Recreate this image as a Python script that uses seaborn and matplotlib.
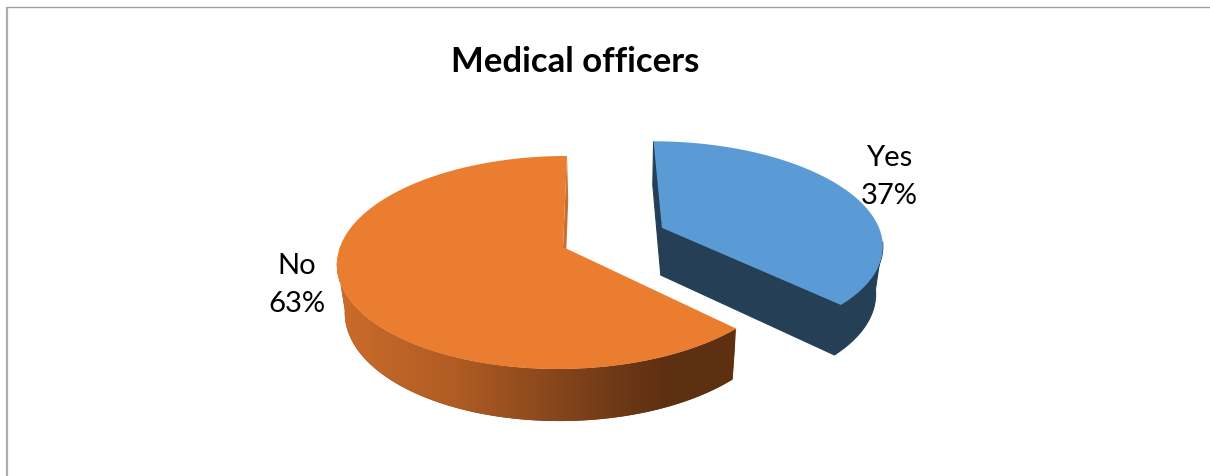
import numpy as np
import matplotlib
matplotlib.use("Agg")
import matplotlib.pyplot as plt
import seaborn as sns
from matplotlib.colors import LinearSegmentedColormap
from matplotlib.path import Path
from matplotlib.transforms import Affine2D, Transform

# Chart data
categories = ["Yes", "No"]
shares = [37.4, 62.6]
chart_title = "Medical officers"
slice_colors = ["#5b9bd5", "#eb7d31"]

sns.set_theme(style="white")
plt.rcParams["font.family"] = ["Lato", "DejaVu Sans"]

# Camera for the tilted pie (pie units -> picture pixels)
SCALE_X, ORIGIN_X, ORIGIN_Y = 223.0, 563.0, 248.0
LEAN_X, LIFT_Y, FALL_Y = 86.5, -68.2, 56.3
SHIFT_Z, PERSP_Y, PERSP_Z = 17.4, 0.1455, 0.0281


def project(x, y, z=0.0):
    w = 1 + PERSP_Y * y + PERSP_Z * z
    px = (SCALE_X * x + LEAN_X * y + SHIFT_Z * z + ORIGIN_X) / w
    py = (LIFT_Y * y + FALL_Y * z + ORIGIN_Y) / w
    return px, py


class Tilt(Transform):
    input_dims = output_dims = 2

    def transform_non_affine(self, values):
        values = np.asarray(values)
        return np.column_stack(project(values[:, 0], values[:, 1]))

    def transform_path_non_affine(self, path):
        # Flatten the curves at a large scale so the rim stays smooth
        big = path.transformed(Affine2D().scale(2000)).to_polygons(closed_only=False)[0]
        return Path(self.transform_non_affine(big / 2000))


def arc(wedge, a, b, n):
    t = np.radians(np.linspace(a, b, n))
    return wedge.center[0] + wedge.r * np.cos(t), wedge.center[1] + wedge.r * np.sin(t)


def wall(x, y):
    # Band from the upper rim down to the lower rim
    top = np.column_stack(project(x, y, 0.0))
    low = np.column_stack(project(x, y, 1.0))
    return np.vstack([top, low[::-1]])


fig, ax = plt.subplots(figsize=(12.1, 4.77), dpi=100)
fig.subplots_adjust(0, 0, 1, 1)

wedges, texts = ax.pie(
    shares,
    labels=[f"{n}\n{v:.0f}%" for n, v in zip(categories, shares)],
    colors=sns.color_palette(slice_colors),
    explode=[0.49, 0],
    startangle=90,
    counterclock=False,
    wedgeprops={"linewidth": 0},
)

tilt = Tilt() + ax.transData
for w in wedges:
    w.set_transform(tilt)
    w.set_zorder(3)
    w.set_clip_on(False)

# Yes slice: flat dark walls, the arc runs up to where the rim turns away
yes, no = wedges
dark_blue = "#243f56"
xs, ys = arc(yes, yes.theta1, -8, 200)
ax.add_patch(plt.Polygon(wall(xs, ys), fc=dark_blue, ec=dark_blue, lw=0.8, zorder=2))
for angle in (yes.theta1, yes.theta2):
    xs, ys = arc(yes, angle, angle, 2)
    rx = np.array([yes.center[0], xs[0]])
    ry = np.array([yes.center[1], ys[0]])
    ax.add_patch(plt.Polygon(wall(rx, ry), fc=dark_blue, ec=dark_blue, lw=0.8, zorder=2))

# No slice: cut face, then outer wall shaded left to right
xs, ys = arc(no, no.theta1, no.theta1, 2)
rx = np.array([no.center[0], xs[0]])
ry = np.array([no.center[1], ys[0]])
ax.add_patch(plt.Polygon(wall(rx, ry), fc="#c8702e", ec="none", zorder=2))

shade = LinearSegmentedColormap.from_list(
    "wall", [(0, "#cc6c2a"), (0.3, "#b05c24"), (0.62, "#7c401a"), (0.82, "#5e3012"), (1, "#5e3012")]
)
xs, ys = arc(no, -172, no.theta2, 400)
outer = plt.Polygon(wall(xs, ys), fc="#7c401a", ec="none", transform=ax.transData, zorder=1.9)
ax.add_patch(outer)
ramp = ax.imshow(
    np.linspace(0, 1, 256)[None, :],
    extent=(335, 735, 430, 250),
    aspect="auto",
    cmap=shade,
    interpolation="bilinear",
    zorder=2,
)
ramp.set_clip_path(outer)

ax.set_aspect("auto")
ax.set_xlim(0, 1210)
ax.set_ylim(477, 0)
ax.set_frame_on(False)

# Text
for t, pos in zip(texts, [(889, 177), (297, 285)]):
    t.set_position(pos)
    t.set(ha="center", va="center", fontsize=21, color="black", linespacing=1.6, zorder=4)
ax.text(575, 62, chart_title, ha="center", va="center", fontsize=25, fontweight="bold", color="black")

# Chart border, only partly inside the crop
ax.plot([7, 7], [477, 7.5], color="#aeaeae", lw=1.6, solid_capstyle="butt")
ax.plot([7, 1210], [7.5, 7.5], color="#a0a0a0", lw=1.0, solid_capstyle="butt")

fig.savefig("out.png", dpi=100)
